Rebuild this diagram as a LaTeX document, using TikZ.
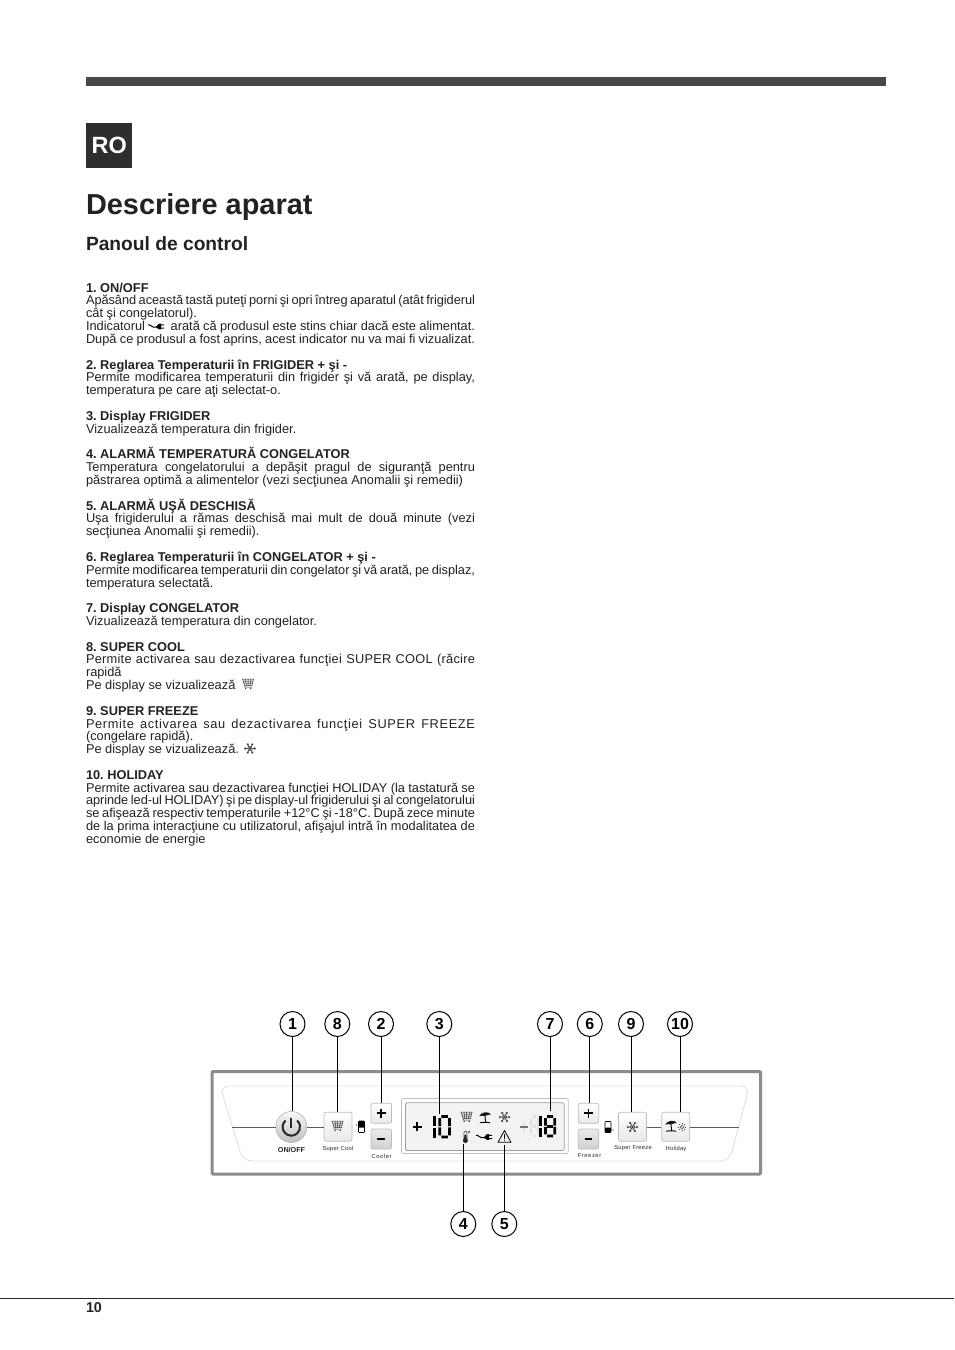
\documentclass[tikz,border=0pt]{standalone}
\usepackage{fontspec}
\setmainfont{Liberation Sans}
\usetikzlibrary{calc}
\definecolor{frameg}{HTML}{8C8C8C}
\definecolor{panelln}{HTML}{E2E2E2}
\definecolor{btnln}{HTML}{BDBDBD}
\definecolor{lcd}{HTML}{F3F3F3}
\definecolor{txt}{HTML}{222222}
\newcommand{\bodyf}{\fontsize{12.8}{13}\selectfont\frenchspacing}
\newcommand{\boldf}{\fontsize{12.8}{13}\selectfont\bfseries\frenchspacing}
\newcommand{\J}[1]{\makebox[389pt][s]{#1}}
\tikzset{
 x=1pt,y=-1pt,
 ln/.style={anchor=base west,inner sep=0pt,outer sep=0pt,text=txt,font=\bodyf},
 hd/.style={anchor=base west,inner sep=0pt,outer sep=0pt,text=txt,font=\boldf},
 callout/.style={circle,draw=black,line width=1pt,fill=white,minimum size=25pt,inner sep=0pt,font=\fontsize{16}{16}\selectfont\bfseries,text=black},
 lead/.style={draw=black,line width=1pt},
 wire/.style={draw=black!65,line width=1pt},
 btn/.style={rounded corners=2pt,draw=btnln,line width=0.7pt,top color=white,bottom color=black!9,inner sep=0pt},
 btndark/.style={rounded corners=2pt,draw=btnln,line width=0.7pt,top color=black!8,bottom color=black!18,inner sep=0pt},
 captxt/.style={inner sep=0pt,text=black!85,font=\fontsize{5.8}{6}\selectfont\addfontfeatures{LetterSpace=4}},
 seg/.style={line width=2.7pt,draw=black},
 segoff/.style={line width=2.7pt,draw=black!13},
 icon/.style={line width=0.5pt,draw=black!80},
}
% seven segment outline: #1 style, #2 left x, #3 right x, #4 top y, #5 bottom y
\newcommand{\digitzero}[5]{%
 \draw[#1] ($(#2,#4)+(1.6,0)$) -- ($(#3,#4)+(-1.6,0)$) ($(#2,#5)+(1.6,0)$) -- ($(#3,#5)+(-1.6,0)$)
  ($(#2,#4)+(0,1.6)$) -- ($(#2,#4)!0.5!(#2,#5)+(0,-0.7)$) ($(#2,#5)+(0,-1.6)$) -- ($(#2,#4)!0.5!(#2,#5)+(0,0.7)$)
  ($(#3,#4)+(0,1.6)$) -- ($(#3,#4)!0.5!(#3,#5)+(0,-0.7)$) ($(#3,#5)+(0,-1.6)$) -- ($(#3,#4)!0.5!(#3,#5)+(0,0.7)$);}
\newcommand{\digitmid}[5]{\draw[#1] ($(#2,#4)!0.5!(#2,#5)+(1.6,0)$) -- ($(#3,#4)!0.5!(#3,#5)+(-1.6,0)$);}
\newcommand{\iconcart}[2]{\begin{scope}[shift={(#1,#2)}]
 \draw[icon] (-6,-5)--(6,-5) (-5.5,-5)--(-3.5,1.5)--(4,1.5)--(5.5,-5) (-2.6,-5)--(-1.6,1.5) (0.2,-5)--(0.2,1.5) (3,-5)--(2,1.5) (-4.9,-3)--(4.9,-3) (-4.2,-0.8)--(4.4,-0.8) (-3.5,1.5)--(-3,3.2)--(4,3.2);
 \fill[black!80] (-2.4,4.4) circle (0.75) (2.8,4.4) circle (0.75);
\end{scope}}
\newcommand{\iconsnow}[2]{\begin{scope}[shift={(#1,#2)}]
 \draw[icon] (-5,0)--(5,0) (-2.5,-4.3)--(2.5,4.3) (-2.5,4.3)--(2.5,-4.3);
 \draw[icon] (-2.4,0)--(-1.2,-2.1)--(1.2,-2.1)--(2.4,0)--(1.2,2.1)--(-1.2,2.1)--cycle;
 \foreach \a in {0,60,...,300}{\draw[icon] (\a:3.9) -- +(\a+55:1.5) (\a:3.9) -- +(\a-55:1.5);}
 \fill[black!80] (0:5.1) circle (0.75) (60:5.1) circle (0.75) (120:5.1) circle (0.75) (180:5.1) circle (0.75) (240:5.1) circle (0.75) (300:5.1) circle (0.75);
\end{scope}}
\newcommand{\iconumb}[2]{\begin{scope}[shift={(#1,#2)}]
 \fill[black!90] (-5.8,-1.4) .. controls (-4,-5.8) and (4,-6.6) .. (5.8,-3) -- (3,-2.6) -- (0,-1.6) -- (-3,-1.8) -- cycle;
 \draw[line width=0.9pt] (-0.3,-4)--(0.7,5);
 \draw[line width=0.9pt] (-5.2,5.3) .. controls (-2,4.6) and (2,4.6) .. (5.2,5.3);
\end{scope}}
\newcommand{\iconplug}[2]{\begin{scope}[shift={(#1,#2)}]
 \draw[line width=1pt] (-9,-1.5) .. controls (-7,-3) and (-5,2) .. (-1,0.5);
 \fill (-1.5,0.5) -- (2,-2.8) -- (4,-2.8) -- (4,2.8) -- (2,2.8) -- cycle;
 \fill (4,-2.2) rectangle (7,-1.2) (4,1.2) rectangle (7,2.2);
\end{scope}}
\begin{document}
\begin{tikzpicture}
\useasboundingbox (0,0) rectangle (954,1350);
\fill[white] (0,0) rectangle (954,1350);
% header
\fill[black!72] (86,77) rectangle (886,86);
\node[inner sep=0pt,fill=black!82,minimum width=46pt,minimum height=45pt,anchor=north west,text=white,font=\fontsize{23.5}{25}\selectfont\bfseries] (ro) at (86,123) {RO};
\node[hd,font=\fontsize{28.9}{30}\selectfont\bfseries] (title) at (86,214) {Descriere aparat};
\node[hd,font=\fontsize{19.2}{20}\selectfont\bfseries] (sub) at (86,250) {Panoul de control};
% text
\node[hd] (a1) at (86,292) {1. ON/OFF};
\node[ln] (a2) at (86,304) {\J{\addfontfeatures{LetterSpace=-0.4}Apăsând această tastă puteţi porni şi opri întreg aparatul (atât frigiderul}};
\node[ln] (a3) at (86,317) {cât şi congelatorul).};
\node[ln] (a4) at (86,330) {\J{Indicatorul \hspace{19pt} arată că produsul este stins chiar dacă este alimentat.}};
\node[ln] (a5) at (86,343) {\J{După ce produsul a fost aprins, acest indicator nu va mai fi vizualizat.}};
\iconplug{157}{326.5}
\node[hd] (b1) at (86,369) {2. Reglarea Temperaturii în FRIGIDER + şi -};
\node[ln] (b2) at (86,381) {\J{Permite modificarea temperaturii din frigider şi vă arată, pe display,}};
\node[ln] (b3) at (86,394) {temperatura pe care aţi selectat-o.};
\node[hd] (c1) at (86,420) {3. Display FRIGIDER};
\node[ln] (c2) at (86,433) {Vizualizează temperatura din frigider.};
\node[hd] (d1) at (86,458) {4. ALARMĂ TEMPERATURĂ CONGELATOR};
\node[ln] (d2) at (86,471) {\J{Temperatura congelatorului a depăşit pragul de siguranţă pentru}};
\node[ln] (d3) at (86,484) {păstrarea optimă a alimentelor (vezi secţiunea Anomalii şi remedii)};
\node[hd] (e1) at (86,510) {5. ALARMĂ UŞĂ DESCHISĂ};
\node[ln] (e2) at (86,522) {\J{Uşa frigiderului a rămas deschisă mai mult de două minute (vezi}};
\node[ln] (e3) at (86,535) {secţiunea Anomalii şi remedii).};
\node[hd] (f1) at (86,561) {6. Reglarea Temperaturii în CONGELATOR + şi -};
\node[ln] (f2) at (86,574) {\J{\addfontfeatures{LetterSpace=-0.3}Permite modificarea temperaturii din congelator şi vă arată, pe displaz,}};
\node[ln] (f3) at (86,587) {temperatura selectată.};
\node[hd] (g1) at (86,612) {7. Display CONGELATOR};
\node[ln] (g2) at (86,625) {Vizualizează temperatura din congelator.};
\node[hd] (h1) at (86,651) {8. SUPER COOL};
\node[ln] (h2) at (86,663) {\J{\addfontfeatures{LetterSpace=2}Permite activarea sau dezactivarea funcţiei SUPER COOL (răcire}};
\node[ln] (h3) at (86,676) {rapidă};
\node[ln] (h4) at (86,689) {Pe display se vizualizează};
\node[hd] (i1) at (86,715) {9. SUPER FREEZE};
\node[ln] (i2) at (86,728) {\J{\addfontfeatures{LetterSpace=5}Permite activarea sau dezactivarea funcţiei SUPER FREEZE}};
\node[ln] (i3) at (86,740) {(congelare rapidă).};
\node[ln] (i4) at (86,753) {Pe display se vizualizează.};
\node[hd] (j1) at (86,779) {10. HOLIDAY};
\node[ln] (j2) at (86,792) {\J{Permite activarea sau dezactivarea funcţiei HOLIDAY (la tastatură se}};
\node[ln] (j3) at (86,804) {\J{\addfontfeatures{LetterSpace=-0.5}aprinde led-ul HOLIDAY) şi pe display-ul frigiderului şi al congelatorului}};
\node[ln] (j4) at (86,817) {\J{se afişează respectiv temperaturile +12°C şi -18°C. După zece minute}};
\node[ln] (j5) at (86,830) {\J{de la prima interacţiune cu utilizatorul, afişajul intră în modalitatea de}};
\node[ln] (j6) at (86,843) {economie de energie};
\iconcart{248}{684}
\iconsnow{250}{748.5}
% panel
\draw[frameg,line width=3pt,rounded corners=1pt] (212,1071.5) rectangle (760.5,1174);
\draw[panelln,line width=0.9pt,rounded corners=9pt] (220,1086) -- (749.6,1086) -- (729.4,1161) -- (243,1161) -- cycle;
% wires
\coordinate (wl) at (232,1127.5);
\coordinate (wr) at (739,1127.5);
\node[circle,draw=black!30,line width=0.6pt,top color=black!3,bottom color=black!25,minimum size=31pt,inner sep=0pt] (onoff) at (291.3,1127) {};
\draw[line width=2pt,black!85] (291.3,1117.5) -- (291.3,1128);
\draw[line width=2pt,black!85] (285.5,1120.5) arc[start angle=228,end angle=-48,radius=8.7];
\node[btn,minimum width=28pt,minimum height=29pt] (sc) at (338,1126.7) {};
\node[btn,minimum width=20.5pt,minimum height=20pt] (cp) at (381.3,1113.3) {};
\node[btndark,minimum width=20.5pt,minimum height=20pt] (cm) at (381.3,1139) {};
\node[btn,minimum width=20.5pt,minimum height=20pt] (fp) at (588.5,1113.3) {};
\node[btndark,minimum width=20.5pt,minimum height=20pt] (fm) at (588.5,1139) {};
\node[btn,minimum width=28pt,minimum height=29pt] (sf) at (632.5,1126.7) {};
\node[btn,minimum width=28pt,minimum height=29pt] (hol) at (675.8,1126.7) {};
\draw[wire] (wl) -- (wl -| onoff.west) (wl -| onoff.east) -- (wl -| sc.west) (wl -| sf.east) -- (wl -| hol.west) (wr -| hol.east) -- (wr);
\iconcart{337.5}{1126}
\iconsnow{632.5}{1127}
\iconumb{671}{1126}
\draw[line width=1.9pt] (377,1113.3)--(385.6,1113.3) (381.3,1109)--(381.3,1117.6) (377.4,1139)--(385.2,1139);
\draw[line width=1.9pt] (584.2,1113.3)--(592.8,1113.3) (588.5,1109)--(588.5,1117.6) (584.6,1139)--(592.4,1139);
\begin{scope}[shift={(682,1127)}]
 \draw[line width=0.5pt,black!75] (0,0) circle (1.8);
 \foreach \a in {0,45,...,315}{\draw[line width=0.5pt,black!75] (\a:2.7) -- (\a:4.2);}
\end{scope}
% fridge gauges
\draw[line width=0.6pt,rounded corners=0.8pt] (358.5,1121) rectangle (364.5,1132.5);
\fill[black,rounded corners=0.8pt] (358.5,1121) rectangle (364.5,1127.5);
\fill (356.5,1125) circle (0.7);
\draw[line width=0.6pt,rounded corners=0.8pt] (605,1121.5) rectangle (611,1132.5);
\fill[black,rounded corners=0.8pt] (605,1127.5) rectangle (611,1132.5);
\fill (613,1130) circle (0.7);
% captions
\node[captxt,font=\fontsize{7.2}{7}\selectfont\bfseries] (t1) at (291.5,1149.5) {ON/OFF};
\node[captxt] (t2) at (338,1148.5) {Super Cool};
\node[captxt] (t3) at (381.5,1156) {\addfontfeatures{LetterSpace=10}Cooler};
\node[captxt] (t4) at (589.5,1156) {\addfontfeatures{LetterSpace=10}Freezer};
\node[captxt] (t5) at (633,1148.5) {Super Freeze};
\node[captxt] (t6) at (676,1148.5) {Holiday};
% display
\draw[btnln,line width=0.7pt,rounded corners=2pt] (401.5,1098.5) rectangle (568.3,1153.5);
\draw[black!38,line width=0.8pt,fill=lcd,rounded corners=1.5pt] (405.5,1102.7) rectangle (564.3,1150.5);
% digits
\draw[line width=2pt] (413,1126.5)--(421.5,1126.5) (417.2,1122.2)--(417.2,1130.8);
\draw[seg] (434.5,1115.5)--(434.5,1125.5) (434.5,1127.5)--(434.5,1138);
\digitzero{seg}{439.7}{449.5}{1116.5}{1137}
\draw[line width=1.6pt,black!10] (524,1122)--(524,1132);
\draw[line width=2pt,black!55] (519.5,1127)--(528,1127);
\digitzero{segoff}{531}{538}{1116.5}{1136}
\digitmid{segoff}{531}{538}{1116.5}{1136}
\draw[seg] (540.7,1115.5)--(540.7,1125.5) (540.7,1127.5)--(540.7,1137);
\digitzero{seg}{545.4}{554.7}{1116.5}{1136}
\digitmid{seg}{545.4}{554.7}{1116.5}{1136}
\iconcart{466.5}{1117}
\iconumb{485}{1117.5}
\iconsnow{504.5}{1117}
\iconplug{485}{1137}
% thermometer
\draw[line width=0.6pt,black!75] (463.8,1133) -- (464.3,1132) .. controls (465,1130.8) and (466,1130.8) .. (466.6,1132) -- (467,1133) -- (467,1139) (463.8,1133) -- (463.8,1139);
\fill[black!85] (464.5,1134.5) -- (466.3,1134.5) -- (466.7,1139) -- (464,1139) -- cycle;
\fill[black!85] (465.4,1140.5) circle (2.5);
\draw[line width=0.4pt,black!80] (469,1132) circle (0.8);
% triangle
\draw[line width=0.8pt,line join=round] (504.5,1130.5) -- (511,1142.3) -- (498,1142.3) -- cycle;
\draw[line width=0.9pt] (504.5,1134) -- (504.5,1138.5) (504.5,1139.7) -- (504.5,1140.9);
% callouts
\node[callout] (n1) at (292.5,1024) {1};
\node[callout] (n8) at (337.3,1024) {8};
\node[callout] (n2) at (381,1024) {2};
\node[callout] (n3) at (439.3,1024) {3};
\node[callout] (n7) at (550,1024) {7};
\node[callout] (n6) at (589.8,1024) {6};
\node[callout] (n9) at (631,1024) {9};
\node[callout] (n10) at (680,1024) {10};
\node[callout] (n4) at (463.3,1224) {4};
\node[callout] (n5) at (504.3,1224) {5};
\coordinate (q3) at (0,1114);
\coordinate (q7) at (0,1111);
\coordinate (q4) at (0,1144);
\coordinate (q5) at (0,1145);
\draw[lead] (n1) -- (n1 |- onoff.north);
\draw[lead] (n8) -- (n8 |- sc.north);
\draw[lead] (n2) -- (n2 |- cp.north);
\draw[lead] (n3) -- (n3 |- q3);
\draw[lead] (n7) -- (n7 |- q7);
\draw[lead] (n6) -- (n6 |- fp.north);
\draw[lead] (n9) -- (n9 |- sf.north);
\draw[lead] (n10) -- (n10 |- hol.north);
\draw[lead] (n4) -- (n4 |- q4);
\draw[lead] (n5) -- (n5 |- q5);
% footer
\draw[black!85,line width=0.8pt] (0,1298.5) -- (954,1298.5);
\node[hd,font=\fontsize{14.3}{14}\selectfont\bfseries] (pg) at (86,1312) {10};
\end{tikzpicture}
\end{document}
